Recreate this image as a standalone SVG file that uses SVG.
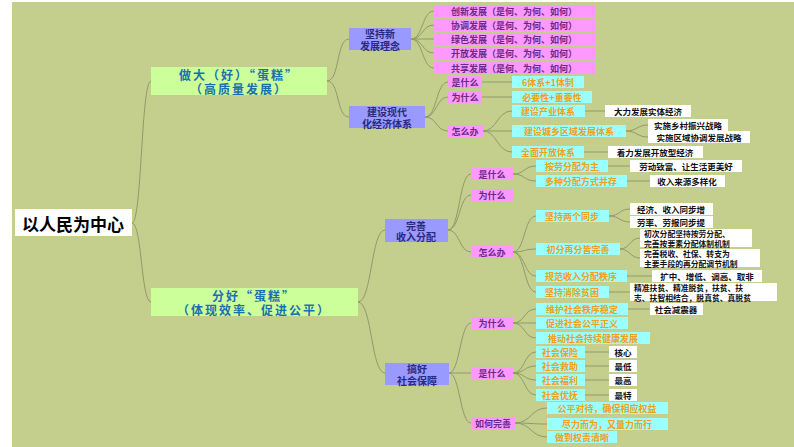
<svg xmlns="http://www.w3.org/2000/svg" width="794" height="447" viewBox="0 0 794 447">
<style>
text{font-family:"Noto Sans CJK SC","Liberation Sans",sans-serif;dominant-baseline:central;text-anchor:middle}
.g rect{fill:#ccff99}.g text{fill:#1a6fb0;font-size:12px;font-weight:bold;letter-spacing:2px}
.pu rect{fill:#9999ff}.pu text{fill:#2a2a7a;font-size:10px;font-weight:bold}
.pk rect{fill:#ff99ff}.pk text{fill:#6a2a8a;font-size:9px;font-weight:bold}
.cy rect{fill:#99ffff}.cy text{fill:#f0a020;font-size:9px;font-weight:bold}
.w rect{fill:#ffffff}.w text{fill:#111;font-size:8.5px;font-weight:bold}
.l text{text-anchor:start;font-size:7.8px}
#conn path{fill:none;stroke:#8f9a6c;stroke-width:1}
</style>
<rect width="794" height="447" fill="#ffffff"/>
<rect x="12" y="2" width="782" height="445" fill="#c4cf8e"/>
<g id="conn">
<path d="M132 223C142 223 141 81 151 81M132 223C142 223 141 302 151 302"/>
<path d="M327 81C340 81 336 39 349 39M327 81C340 81 336 117 349 117"/>
<path d="M411 39C423 39 422 11 434 11M411 39C423 39 422 25 434 25M411 39H434M411 39C423 39 422 53 434 53M411 39C423 39 422 68 434 68"/>
<path d="M425 117C437 117 436 82 448 82M425 117C437 117 436 97 448 97M425 117C437 117 436 131 448 131"/>
<path d="M482 82H512M482 97H512M483 131C497 131 497 111 512 111M483 131H512M483 131C497 131 497 152 512 152"/>
<path d="M585 111H605M626 131C637 131 637 125 648 125M626 131C637 131 637 137 648 137M584 152H608"/>
<path d="M358 302C372 302 371 230 385 230M358 302C372 302 371 373 385 373"/>
<path d="M448 230C460 230 459 174 471 174M448 230C460 230 459 195 471 195M448 230C460 230 459 252 471 252"/>
<path d="M513 174C525 174 524 166 536 166M513 174C525 174 524 181 536 181M608 166H630M627 181H650"/>
<path d="M513 252C525 252 524 216 536 216M513 252C525 252 524 249 536 249M513 252C525 252 524 276 536 276M513 252C525 252 524 292 536 292"/>
<path d="M609 216C620 216 619 209 630 209M609 216C620 216 619 222 630 222M620 249C630 249 630 238 640 238M620 249C630 249 630 258 640 258M627 276H652M609 292H630"/>
<path d="M449 373C460 373 460 323 471 323M449 373H471M449 373C460 373 460 423 471 423"/>
<path d="M513 323C525 323 524 309 536 309M513 323H536M513 323C525 323 524 338 536 338M628 309H650"/>
<path d="M513 373C525 373 524 352 536 352M513 373C525 373 524 366 536 366M513 373C525 373 524 380 536 380M513 373C525 373 524 395 536 395"/>
<path d="M585 352H609M585 366H609M585 380H609M585 395H609"/>
<path d="M515 423C531 423 531 408 547 408M515 423C531 423 531 424 547 424M515 423C531 423 531 437 547 437"/>
</g>
<g id="root"><rect x="15" y="209" width="117" height="27" fill="#fff"/><text x="73" y="223" style="font-size:17px;font-weight:bold;fill:#000">以人民为中心</text></g>
<g id="n-zuoda" class="g"><rect x="151" y="67" width="176" height="28"/><text x="239" y="74">做大（好）“蛋糕”<tspan x="239" dy="14">（高质量发展）</tspan></text></g>
<g id="n-fenhao" class="g"><rect x="151" y="288" width="207" height="28"/><text x="254" y="295">分好“蛋糕”<tspan x="254" dy="14">（体现效率、促进公平）</tspan></text></g>
<g id="n-jianchi" class="pu"><rect x="349" y="28" width="62" height="22"/><text x="380" y="33.5">坚持新<tspan x="380" dy="11">发展理念</tspan></text></g>
<g id="n-xiandai" class="pu"><rect x="349" y="106" width="76" height="22"/><text x="387" y="111.5">建设现代<tspan x="387" dy="11">化经济体系</tspan></text></g>
<g id="n-p1" class="pk"><rect x="434" y="5" width="161" height="12"/><text x="514" y="11">创新发展（是何、为何、如何）</text></g>
<g id="n-p2" class="pk"><rect x="434" y="19" width="161" height="12"/><text x="514" y="25">协调发展（是何、为何、如何）</text></g>
<g id="n-p3" class="pk"><rect x="434" y="33" width="161" height="12"/><text x="514" y="39">绿色发展（是何、为何、如何）</text></g>
<g id="n-p4" class="pk"><rect x="434" y="47" width="161" height="12"/><text x="514" y="53">开放发展（是何、为何、如何）</text></g>
<g id="n-p5" class="pk"><rect x="434" y="62" width="161" height="12"/><text x="514" y="68">共享发展（是何、为何、如何）</text></g>
<g id="n-a1" class="pk"><rect x="448" y="76" width="34" height="12"/><text x="465" y="82">是什么</text></g>
<g id="n-a2" class="pk"><rect x="448" y="91" width="34" height="12"/><text x="465" y="97">为什么</text></g>
<g id="n-a3" class="pk"><rect x="448" y="125" width="35" height="12"/><text x="465" y="131">怎么办</text></g>
<g id="n-a1c" class="cy"><rect x="512" y="76" width="72" height="12"/><text x="548" y="82">6体系+1体制</text></g>
<g id="n-a2c" class="cy"><rect x="512" y="91" width="80" height="12"/><text x="552" y="97">必要性+重要性</text></g>
<g id="n-a3c1" class="cy"><rect x="512" y="105" width="73" height="12"/><text x="548" y="111">建设产业体系</text></g>
<g id="n-a3c2" class="cy"><rect x="512" y="125" width="114" height="12"/><text x="569" y="131">建设城乡区域发展体系</text></g>
<g id="n-a3c3" class="cy"><rect x="512" y="146" width="72" height="12"/><text x="548" y="152">全面开放体系</text></g>
<g id="n-w1" class="w"><rect x="605" y="105" width="86" height="12"/><text x="648" y="111">大力发展实体经济</text></g>
<g id="n-w2" class="w"><rect x="648" y="119" width="80" height="12"/><text x="688" y="125">实施乡村振兴战略</text></g>
<g id="n-w3" class="w"><rect x="648" y="131" width="102" height="12"/><text x="699" y="137">实施区域协调发展战略</text></g>
<g id="n-w4" class="w"><rect x="608" y="146" width="95" height="12"/><text x="655" y="152">着力发展开放型经济</text></g>
<g id="n-wanshan" class="pu"><rect x="385" y="219" width="63" height="23"/><text x="416" y="225">完善<tspan x="416" dy="11">收入分配</tspan></text></g>
<g id="n-b1" class="pk"><rect x="471" y="168" width="42" height="12"/><text x="492" y="174">是什么</text></g>
<g id="n-b2" class="pk"><rect x="471" y="189" width="42" height="12"/><text x="492" y="195">为什么</text></g>
<g id="n-b3" class="pk"><rect x="471" y="246" width="42" height="12"/><text x="492" y="252">怎么办</text></g>
<g id="n-b1c1" class="cy"><rect x="536" y="160" width="72" height="12"/><text x="572" y="166">按劳分配为主</text></g>
<g id="n-b1c2" class="cy"><rect x="536" y="175" width="91" height="12"/><text x="581" y="181">多种分配方式并存</text></g>
<g id="n-b1w1" class="w"><rect x="630" y="160" width="112" height="12"/><text x="686" y="166">劳动致富、让生活更美好</text></g>
<g id="n-b1w2" class="w"><rect x="650" y="175" width="75" height="12"/><text x="687" y="181">收入来源多样化</text></g>
<g id="n-b3c1" class="cy"><rect x="536" y="210" width="73" height="12"/><text x="572" y="216">坚持两个同步</text></g>
<g id="n-b3c2" class="cy"><rect x="536" y="243" width="84" height="12"/><text x="578" y="249">初分再分皆完善</text></g>
<g id="n-b3c3" class="cy"><rect x="536" y="270" width="91" height="12"/><text x="581" y="276">规范收入分配秩序</text></g>
<g id="n-b3c4" class="cy"><rect x="536" y="286" width="73" height="12"/><text x="572" y="292">坚持消除贫困</text></g>
<g id="n-b3w1" class="w"><rect x="630" y="203" width="83" height="12"/><text x="671" y="209">经济、收入同步增</text></g>
<g id="n-b3w2" class="w"><rect x="630" y="216" width="83" height="12"/><text x="671" y="222">劳率、劳报同步提</text></g>
<g id="n-b3w3" class="w l"><rect x="640" y="229" width="112" height="18"/><text x="644" y="233.5">初次分配坚持按劳分配、<tspan x="644" dy="9">完善按要素分配体制机制</tspan></text></g>
<g id="n-b3w4" class="w l"><rect x="640" y="249" width="120" height="18"/><text x="644" y="253.5">完善税收、社保、转支为<tspan x="644" dy="9">主要手段的再分配调节机制</tspan></text></g>
<g id="n-b3w5" class="w"><rect x="652" y="270" width="110" height="12"/><text x="707" y="276">扩中、增低、调高、取非</text></g>
<g id="n-b3w6" class="w l"><rect x="630" y="283" width="147" height="18"/><text x="634" y="287.5">精准扶贫、精准脱贫，扶贫、扶<tspan x="634" dy="9">志、扶智相结合，脱真贫、真脱贫</tspan></text></g>
<g id="n-gaohao" class="pu"><rect x="385" y="363" width="64" height="22"/><text x="417" y="368.5">搞好<tspan x="417" dy="11">社会保障</tspan></text></g>
<g id="n-c1" class="pk"><rect x="471" y="317" width="42" height="12"/><text x="492" y="323">为什么</text></g>
<g id="n-c2" class="pk"><rect x="471" y="367" width="42" height="12"/><text x="492" y="373">是什么</text></g>
<g id="n-c3" class="pk"><rect x="471" y="417" width="44" height="12"/><text x="493" y="423">如何完善</text></g>
<g id="n-c1a" class="cy"><rect x="536" y="303" width="92" height="12"/><text x="582" y="309">维护社会秩序稳定</text></g>
<g id="n-c1b" class="cy"><rect x="536" y="317" width="92" height="12"/><text x="582" y="323">促进社会公平正义</text></g>
<g id="n-c1c" class="cy"><rect x="536" y="332" width="114" height="12"/><text x="593" y="338">推动社会持续健康发展</text></g>
<g id="n-c1w" class="w"><rect x="650" y="303" width="53" height="12"/><text x="676" y="309">社会减震器</text></g>
<g id="n-c2a" class="cy"><rect x="536" y="346" width="49" height="12"/><text x="560" y="352">社会保险</text></g>
<g id="n-c2b" class="cy"><rect x="536" y="360" width="49" height="12"/><text x="560" y="366">社会救助</text></g>
<g id="n-c2c" class="cy"><rect x="536" y="374" width="49" height="12"/><text x="560" y="380">社会福利</text></g>
<g id="n-c2d" class="cy"><rect x="536" y="389" width="49" height="12"/><text x="560" y="395">社会优抚</text></g>
<g id="n-c2wa" class="w"><rect x="609" y="346" width="28" height="12"/><text x="623" y="352">核心</text></g>
<g id="n-c2wb" class="w"><rect x="609" y="360" width="28" height="12"/><text x="623" y="366">最低</text></g>
<g id="n-c2wc" class="w"><rect x="609" y="374" width="28" height="12"/><text x="623" y="380">最高</text></g>
<g id="n-c2wd" class="w"><rect x="609" y="389" width="28" height="12"/><text x="623" y="395">最特</text></g>
<g id="n-c3a" class="cy"><rect x="547" y="402" width="121" height="12"/><text x="607" y="408">公平对待，确保相应权益</text></g>
<g id="n-c3b" class="cy"><rect x="547" y="418" width="121" height="12"/><text x="607" y="424">尽力而为，又量力而行</text></g>
<g id="n-c3c" class="cy"><rect x="547" y="431" width="70" height="12"/><text x="582" y="437">做到权责清晰</text></g>
</svg>
